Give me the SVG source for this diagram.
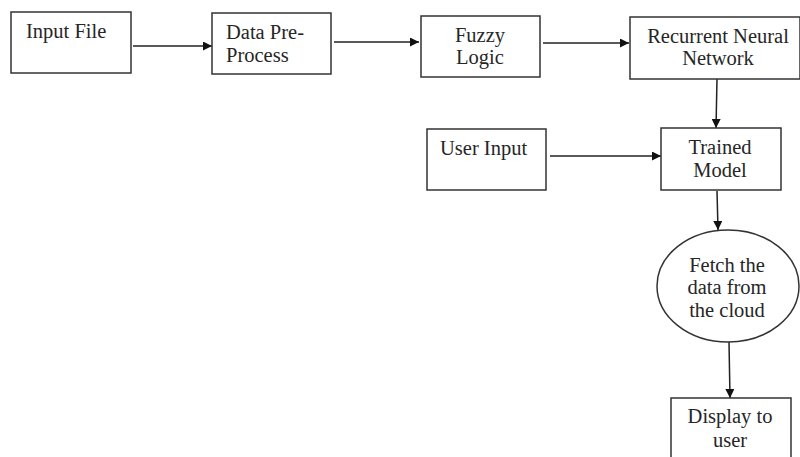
<svg xmlns="http://www.w3.org/2000/svg" width="800" height="457" viewBox="0 0 800 457">
  <style>
    .box { fill: #ffffff; stroke: #333333; stroke-width: 1.5; }
    .mid { text-anchor: middle; }
    .edge { stroke: #222222; stroke-width: 1.5; fill: none; marker-end: url(#arrow); }
  </style>
  <defs>
    <marker id="arrow" viewBox="0 0 10 10" refX="10" refY="5" markerWidth="11" markerHeight="9" markerUnits="userSpaceOnUse" orient="auto">
      <path d="M0,0 L10,5 L0,10 Z" fill="#111111"/>
    </marker>
  </defs>
  <rect width="800" height="457" fill="#ffffff"/>

  <g id="connectors">
    <line class="edge" x1="133" y1="46" x2="212" y2="46"/>
    <line class="edge" x1="334" y1="42" x2="419" y2="42"/>
    <line class="edge" x1="543" y1="43" x2="629" y2="43"/>
    <line class="edge" x1="717" y1="79" x2="716" y2="128"/>
    <line class="edge" x1="550" y1="156" x2="661" y2="156"/>
    <line class="edge" x1="717" y1="191" x2="718" y2="230"/>
    <line class="edge" x1="729" y1="342" x2="730" y2="398"/>
  </g>

  <g font-family="Liberation Serif, Times New Roman, serif" font-size="20.5" fill="#262626">
    <g id="input-file">
      <rect class="box" x="11" y="12" width="120" height="61"/>
      <text x="26" y="38">Input File</text>
    </g>

    <g id="data-preprocess">
      <rect class="box" x="212" y="13" width="119" height="61"/>
      <text x="226" y="39">Data Pre-</text>
      <text x="226" y="62">Process</text>
    </g>

    <g id="fuzzy-logic">
      <rect class="box" x="421" y="16" width="119" height="61"/>
      <text class="mid" x="480" y="42">Fuzzy</text>
      <text class="mid" x="480" y="64">Logic</text>
    </g>

    <g id="rnn">
      <rect class="box" x="630" y="17" width="170" height="62"/>
      <text class="mid" x="718" y="43">Recurrent Neural</text>
      <text class="mid" x="718" y="65">Network</text>
    </g>

    <g id="user-input">
      <rect class="box" x="427" y="129" width="119" height="61"/>
      <text x="440" y="155">User Input</text>
    </g>

    <g id="trained-model">
      <rect class="box" x="661" y="128" width="120" height="62"/>
      <text class="mid" x="720" y="154">Trained</text>
      <text class="mid" x="720" y="177">Model</text>
    </g>

    <g id="fetch-cloud">
      <ellipse class="box" cx="728" cy="286" rx="71" ry="56"/>
      <text class="mid" x="727" y="272">Fetch the</text>
      <text class="mid" x="727" y="294">data from</text>
      <text class="mid" x="727" y="317">the cloud</text>
    </g>

    <g id="display-user">
      <rect class="box" x="671" y="398" width="120" height="70"/>
      <text class="mid" x="730" y="423">Display to</text>
      <text class="mid" x="730" y="447">user</text>
    </g>
  </g>
</svg>
